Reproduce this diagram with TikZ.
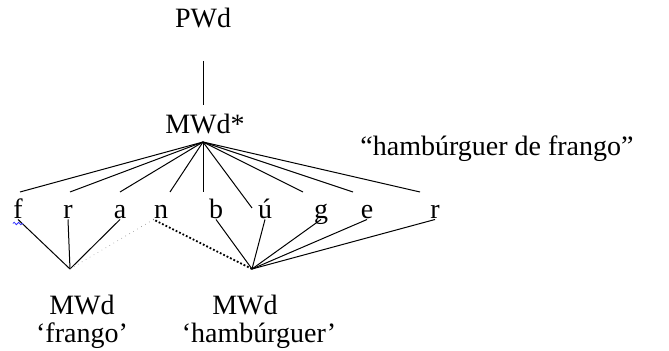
\documentclass[tikz,border=0pt]{standalone}
\usepackage{fontspec}
\setmainfont{Liberation Serif}
\usetikzlibrary{decorations.pathmorphing}

\begin{document}
\begin{tikzpicture}[x=0.5pt,y=-0.5pt,line width=0.5pt,
	lbl/.style={inner sep=0pt,anchor=base,font=\fontsize{14}{16}\selectfont},
	seg/.style={inner sep=0pt,anchor=base,text height=1.4ex,text depth=0pt,font=\fontsize{14}{16}\selectfont}]
					\useasboundingbox (0,0) rectangle (669,351);
					
					% Prosodic word over the compound
					\node[lbl] (pwd) at (203,28) {PWd};
					\node[lbl] (mwd) at (205,134) {MWd*};
					\node[lbl] (gloss) at (497,156) {“hambúrguer de frango”};
					\draw[shorten <=16pt,shorten >=4.5pt] (pwd.south) -- (pwd.south |- mwd.north);
					
					% Segments of the compound
					\foreach \ch/\x [count=\i] in {f/18,r/68,a/120,n/161,b/216,ú/265,g/321,e/367,r/435}
						\node[seg] (s\i) at (\x,219) {\ch};
					
					% Lines from MWd* down towards the segments
					\coordinate (hub) at (203,142);
					\foreach \x/\y [count=\i] in {20/192,70/192,120/192,170/192,203/192,252/208,303/192,353/192,420/192}
						\coordinate (t\i) at (\x,\y);
					\foreach \i in {1,...,9}
						\draw (hub) -- (t\i);
					
					% Lines from the segments to the two member words
					\coordinate (fL) at (70,269);
					\coordinate (fR) at (252,269);
					\foreach \i in {1,2,3}
						\draw (fL) -- (s\i.south);
					\draw[dotted,gray,line width=0.3pt] (fL) -- (s4.south west); % thin dotted link
					\draw[densely dotted,line width=0.9pt] (fR) -- (s4.south west); % thick dotted link
					\foreach \i in {5,...,9}
						\draw (fR) -- (s\i.south);
					
					% Wavy underline below f
					\draw[blue!80,line width=0.4pt,decorate,decoration={snake,amplitude=0.6pt,segment length=2.2pt}]
						([yshift=-2pt]s1.south west) -- ([yshift=-2pt]s1.south east);
					
					% Member words and their glosses
					\node[lbl] (mwdA) at (82,315) {MWd};
					\node[lbl] (glossA) at (82,343) {‘frango’};
					\node[lbl] (mwdB) at (245,315) {MWd};
					\node[lbl] (glossB) at (259,343) {‘hambúrguer’};
				\end{tikzpicture}
\end{document}
